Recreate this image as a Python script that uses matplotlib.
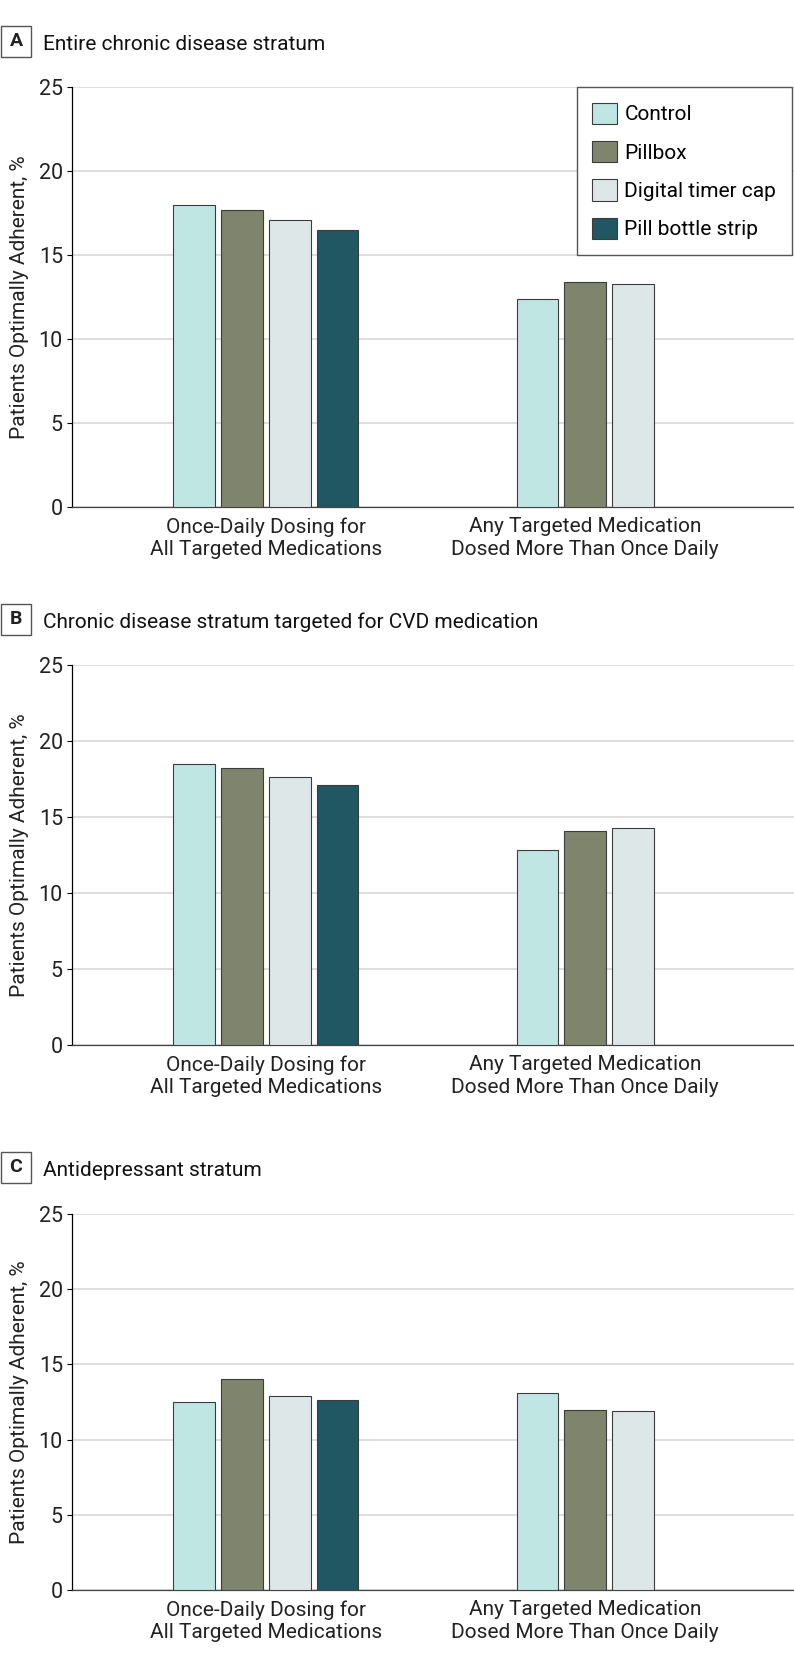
import matplotlib
matplotlib.use("Agg")
import matplotlib.pyplot as plt
from matplotlib.patches import Rectangle
import numpy as np

plt.rcParams['font.family'] = ['Roboto', 'DejaVu Sans']

# categories and arms
categories = ['Once-Daily Dosing for\nAll Targeted Medications',
              'Any Targeted Medication\nDosed More Than Once Daily']
arms = ['Control', 'Pillbox', 'Digital timer cap', 'Pill bottle strip']
colors = ['#c0e6e4', '#7f856c', '#dee7e8', '#215763']

# values (% optimally adherent), one list per arm: [once daily, more than once daily]
# panel A - entire chronic disease stratum
a_control = [18.0, 12.4]
a_pillbox = [17.7, 13.4]
a_timer = [17.1, 13.3]
a_strip = [16.5, None]
# panel B - chronic disease stratum targeted for CVD medication
b_control = [18.5, 12.8]
b_pillbox = [18.2, 14.1]
b_timer = [17.6, 14.3]
b_strip = [17.1, None]
# panel C - antidepressant stratum
c_control = [12.5, 13.1]
c_pillbox = [14.0, 12.0]
c_timer = [12.9, 11.9]
c_strip = [12.6, None]

panels = [
    ('A', 'Entire chronic disease stratum', [a_control, a_pillbox, a_timer, a_strip]),
    ('B', 'Chronic disease stratum targeted for CVD medication', [b_control, b_pillbox, b_timer, b_strip]),
    ('C', 'Antidepressant stratum', [c_control, c_pillbox, c_timer, c_strip]),
]

W, H = 794, 1661
fig = plt.figure(figsize=(W / 100, H / 100), dpi=100)

# pixel boxes: (axes top, axes bottom, title center y)
layout = [(87, 507, 41.5), (665, 1045, 619), (1214, 1590, 1167)]
ax_left, ax_right = 72, 794

bar_w = 0.13
pitch = 0.15
fs = 15

for (letter, title, series), (top, bottom, ty) in zip(panels, layout):
    ax = fig.add_axes([ax_left / W, 1 - bottom / H, (ax_right - ax_left) / W, (bottom - top) / H])

    for g in range(len(categories)):
        present = [i for i, s in enumerate(series) if s[g] is not None]
        n = len(present)
        for k, i in enumerate(present):
            x = g + (k - (n - 1) / 2) * pitch
            ax.bar(x, series[i][g], width=bar_w, color=colors[i],
                   edgecolor='#3c3c3c', linewidth=0.8, zorder=3,
                   label=arms[i] if g == 0 else None)

    ax.set_ylim(0, 25)
    ax.set_yticks(np.arange(0, 26, 5))
    ax.set_xlim(-0.607, 1.654)
    ax.set_xticks(range(len(categories)))
    ax.set_xticklabels(categories, fontsize=fs, linespacing=1.22, color='#222222')
    ax.tick_params(axis='x', length=0, pad=7.5)
    ax.tick_params(axis='y', length=3.6, width=0.8, pad=3, labelsize=fs + 0.5, labelcolor='#222222')
    ax.yaxis.grid(True, color='#d9d9d9', linewidth=1.2, zorder=0)
    ax.set_axisbelow(True)
    for sp in ['top', 'right']:
        ax.spines[sp].set_visible(False)
    ax.spines['left'].set_linewidth(0.9)
    ax.spines['bottom'].set_linewidth(0.9)
    ax.spines['bottom'].set_color('#444444')
    ax.set_ylabel('Patients Optimally Adherent, %', fontsize=fs, color='#222222', labelpad=7)

    # panel letter box and title
    fig.patches.append(Rectangle((1 / W, 1 - (ty + 15.5) / H), 30 / W, 31 / H,
                                 transform=fig.transFigure, fill=False,
                                 edgecolor='#555555', linewidth=1.0))
    fig.text(16 / W, 1 - ty / H, letter, fontsize=14, fontweight='bold',
             ha='center', va='center', color='#222222')
    fig.text(43 / W, 1 - (ty + 8.5) / H, title, fontsize=15, ha='left',
             va='baseline', color='#111111')

    if letter == 'A':
        leg = ax.legend(loc='upper right', bbox_to_anchor=(792 / W, 1 - 87 / H),
                        bbox_transform=fig.transFigure, fontsize=fs,
                        frameon=True, fancybox=False, borderpad=0.75,
                        labelspacing=0.8, handlelength=1.2, handleheight=1.2,
                        handletextpad=0.35, borderaxespad=0)
        leg.get_frame().set_edgecolor('#555555')
        leg.get_frame().set_linewidth(1.0)
        leg.get_frame().set_alpha(1)

fig.savefig('out.png', dpi=100)
